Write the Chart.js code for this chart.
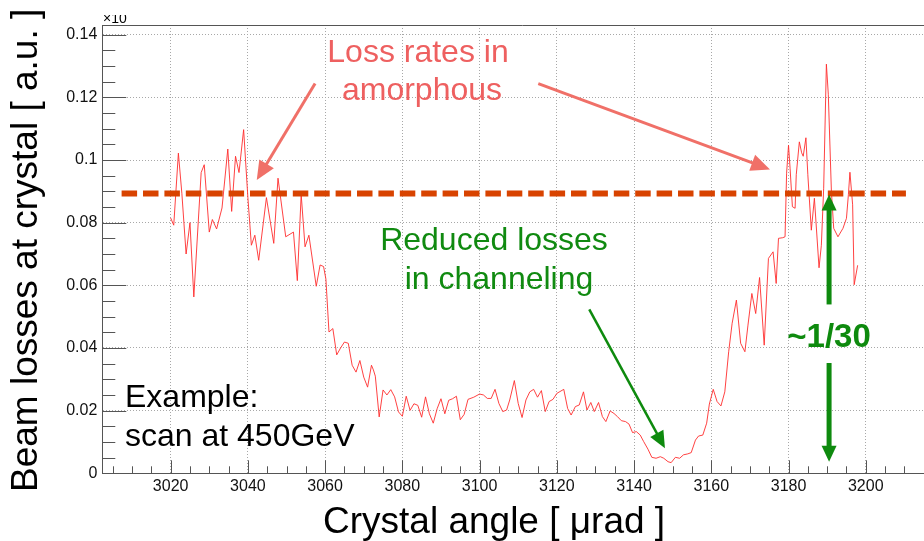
<!DOCTYPE html>
<html>
<head>
<meta charset="utf-8">
<script src="https://cdn.jsdelivr.net/npm/chart.js@4.4.1/dist/chart.umd.min.js"></script>
<style>
  html, body { margin: 0; padding: 0; background: #fff; overflow: hidden; }
  #chart { display: block; }
</style>
</head>
<body>
<canvas id="chart" width="960" height="541" style="width:960px;height:541px"></canvas>
<script>
// crystal angle scan, beam losses vs angle
const angle = [
  3020.0, 3020.8, 3022.0, 3022.9, 3024.0, 3025.0, 3026.0, 3027.9, 3028.7, 3030.0,
  3030.8, 3031.9, 3033.3, 3034.8, 3035.8, 3036.8, 3037.7, 3038.9, 3040.0, 3040.9,
  3041.8, 3042.8, 3044.8, 3046.7, 3047.8, 3049.8, 3051.8, 3052.8, 3053.8, 3054.8,
  3055.8, 3057.7, 3058.7, 3059.6, 3060.2, 3061.0, 3062.0, 3063.0, 3064.0, 3065.0,
  3066.0, 3067.0, 3068.0, 3069.0, 3070.0, 3071.0, 3072.0, 3072.5, 3073.0, 3074.0,
  3075.0, 3076.0, 3077.0, 3078.0, 3079.0, 3080.0, 3081.0, 3082.0, 3083.0, 3084.0,
  3085.0, 3086.0, 3087.0, 3088.0, 3089.0, 3090.0, 3091.0, 3092.0, 3093.0, 3094.0,
  3095.0, 3096.0, 3097.0, 3098.5, 3100.0, 3101.0, 3102.0, 3103.0, 3104.0, 3105.0,
  3106.0, 3107.0, 3107.8, 3109.0, 3110.0, 3111.0, 3112.0, 3113.0, 3114.0, 3115.0,
  3116.0, 3117.0, 3118.0, 3119.0, 3120.0, 3121.8, 3122.8, 3123.7, 3124.8, 3125.8,
  3126.9, 3127.8, 3128.8, 3129.7, 3130.8, 3131.8, 3132.7, 3133.8, 3134.8, 3135.7,
  3136.7, 3137.8, 3138.7, 3139.6, 3140.6, 3141.6, 3142.5, 3143.6, 3144.6, 3145.7,
  3146.8, 3147.7, 3148.8, 3149.6, 3150.7, 3151.8, 3152.8, 3153.9, 3154.8, 3155.9,
  3156.7, 3157.8, 3158.8, 3159.5, 3160.5, 3161.5, 3162.5, 3163.5, 3164.5, 3165.4,
  3166.5, 3167.6, 3168.7, 3169.5, 3170.5, 3171.5, 3172.5, 3173.7, 3174.8, 3176.0,
  3176.8, 3177.4, 3178.5, 3179.1, 3179.5, 3180.0, 3180.4, 3181.0, 3181.7, 3182.0,
  3182.8, 3183.4, 3183.8, 3184.5, 3185.0, 3185.9, 3186.7, 3187.9, 3188.5, 3189.1,
  3189.8, 3190.3, 3191.1, 3191.7, 3192.8, 3194.1, 3195.0, 3195.5, 3195.9, 3196.6,
  3197.0, 3197.9
];

const loss = [
  0.0815, 0.0792, 0.1022, 0.0894, 0.0700, 0.0800, 0.0563, 0.0960, 0.0985, 0.0770,
  0.0810, 0.0780, 0.0847, 0.1035, 0.0836, 0.1012, 0.0960, 0.1097, 0.0880, 0.0728,
  0.0760, 0.0680, 0.0880, 0.0734, 0.0942, 0.0755, 0.0770, 0.0615, 0.0890, 0.0723,
  0.0760, 0.0597, 0.0665, 0.0660, 0.0620, 0.0451, 0.0462, 0.0378, 0.0400, 0.0419,
  0.0415, 0.0345, 0.0323, 0.0360, 0.0307, 0.0275, 0.0345, 0.0330, 0.0310, 0.0180,
  0.0266, 0.0250, 0.0267, 0.0244, 0.0196, 0.0182, 0.0246, 0.0201, 0.0222, 0.0217,
  0.0179, 0.0244, 0.0190, 0.0160, 0.0206, 0.0238, 0.0190, 0.0233, 0.0238, 0.0246,
  0.0171, 0.0188, 0.0236, 0.0243, 0.0253, 0.0250, 0.0239, 0.0239, 0.0268, 0.0223,
  0.0197, 0.0202, 0.0234, 0.0296, 0.0223, 0.0178, 0.0234, 0.0260, 0.0268, 0.0243,
  0.0264, 0.0197, 0.0229, 0.0236, 0.0255, 0.0268, 0.0207, 0.0186, 0.0213, 0.0218,
  0.0260, 0.0202, 0.0226, 0.0197, 0.0226, 0.0181, 0.0165, 0.0199, 0.0191, 0.0181,
  0.0168, 0.0165, 0.0157, 0.0130, 0.0133, 0.0122, 0.0101, 0.0077, 0.0051, 0.0048,
  0.0053, 0.0048, 0.0037, 0.0034, 0.0051, 0.0048, 0.0059, 0.0062, 0.0066, 0.0106,
  0.0119, 0.0122, 0.0160, 0.0221, 0.0268, 0.0229, 0.0215, 0.0260, 0.0388, 0.0479,
  0.0553, 0.0415, 0.0388, 0.0473, 0.0574, 0.0510, 0.0625, 0.0409, 0.0686, 0.0707,
  0.0606, 0.0750, 0.0752, 0.0755, 0.0958, 0.1047, 0.0974, 0.0851, 0.0846, 0.0953,
  0.1058, 0.1023, 0.1012, 0.1071, 0.0953, 0.0776, 0.0878, 0.0656, 0.0728, 0.0910,
  0.1306, 0.1210, 0.0900, 0.0782, 0.0755, 0.0782, 0.0814, 0.0889, 0.0961, 0.0857,
  0.0602, 0.0664
];

// amorphous loss level and the angle span of the dashed line
const amorphousLevel = 0.0893;
const levelSpan = [3007.3, 3210.4];

const xTicks = [3020, 3040, 3060, 3080, 3100, 3120, 3140, 3160, 3180, 3200];
const yTicks = [0, 0.02, 0.04, 0.06, 0.08, 0.1, 0.12, 0.14];

const FONT = "'Liberation Sans', Arial, Helvetica, sans-serif";

const data = {
  datasets: [{
    label: 'amorphous level',
    data: levelSpan.map(a => ({ x: a, y: amorphousLevel })),
    borderColor: '#d84300',
    borderWidth: 6,
    borderDash: [15.5, 5.9],
    borderCapStyle: 'butt',
    pointRadius: 0,
    order: 0
  }, {
    label: 'losses',
    data: angle.map((a, i) => ({ x: a, y: loss[i] })),
    borderColor: 'rgba(255, 45, 45, 0.9)',
    borderWidth: 1,
    pointRadius: 0,
    tension: 0,
    order: 1
  }]
};

// ROOT style ticks drawn inside the frame, plus the top frame line
const insideTicks = {
  id: 'insideTicks',
  beforeDatasetsDraw(chart) {
    const { ctx, chartArea: a, scales: { x, y } } = chart;
    ctx.save();
    ctx.strokeStyle = '#555';
    ctx.lineWidth = 1;
    ctx.beginPath();
    for (let v = 3005; v <= 3215; v += 5) {
      const px = Math.round(x.getPixelForValue(v)) + 0.5;
      const len = v % 20 === 0 ? 13 : 7;
      ctx.moveTo(px, a.bottom);
      ctx.lineTo(px, a.bottom - len);
    }
    for (let k = 1; k <= 28; k++) {
      const py = Math.round(y.getPixelForValue(k * 0.005)) + 0.5;
      const len = k % 4 === 0 ? 24 : 13;
      ctx.moveTo(a.left, py);
      ctx.lineTo(a.left + len, py);
    }
    ctx.moveTo(a.left, Math.round(a.top) + 0.5);
    ctx.lineTo(a.right, Math.round(a.top) + 0.5);
    ctx.stroke();
    ctx.restore();
  }
};

function arrow(ctx, x1, y1, x2, y2, color, width, headLen, headHalf) {
  const dx = x2 - x1, dy = y2 - y1;
  const len = Math.hypot(dx, dy);
  const ux = dx / len, uy = dy / len;
  const bx = x2 - ux * headLen, by = y2 - uy * headLen;
  ctx.strokeStyle = color;
  ctx.lineWidth = width;
  ctx.beginPath();
  ctx.moveTo(x1, y1);
  ctx.lineTo(bx + ux, by + uy);
  ctx.stroke();
  ctx.fillStyle = color;
  ctx.beginPath();
  ctx.moveTo(x2, y2);
  ctx.lineTo(bx - uy * headHalf, by + ux * headHalf);
  ctx.lineTo(bx + uy * headHalf, by - ux * headHalf);
  ctx.closePath();
  ctx.fill();
}

const notes = {
  id: 'notes',
  afterDraw(chart) {
    const { ctx, scales: { x, y } } = chart;
    const X = v => x.getPixelForValue(v);
    const Y = v => y.getPixelForValue(v);
    ctx.save();

    // axis titles
    ctx.fillStyle = '#000';
    ctx.font = '37px ' + FONT;
    ctx.textAlign = 'left';
    ctx.textBaseline = 'alphabetic';
    ctx.fillText('Crystal angle [ μrad ]', 323, 533);
    ctx.save();
    ctx.translate(37, 492);
    ctx.rotate(-Math.PI / 2);
    ctx.fillText('Beam losses at crystal [ a.u. ]', 0, 0);
    ctx.restore();

    // exponent marker, top half hidden
    ctx.save();
    ctx.beginPath();
    ctx.rect(95, 15, 60, 12);
    ctx.clip();
    ctx.font = '14px ' + FONT;
    ctx.fillText('×10', 103, 23);
    ctx.restore();

    ctx.textAlign = 'center';
    ctx.font = '32px ' + FONT;

    // amorphous
    ctx.fillStyle = '#ee6060';
    ctx.fillText('Loss rates in', 418, 62);
    ctx.fillText('amorphous', 422, 100);
    arrow(ctx, X(3057.4), Y(0.1244), X(3042.3), Y(0.0936), '#f07068', 3, 19, 8.5);
    arrow(ctx, X(3115.2), Y(0.1244), X(3175.2), Y(0.0970), '#f07068', 3, 19, 8.5);

    // channeling
    ctx.fillStyle = '#108a10';
    ctx.fillText('Reduced losses', 494, 250);
    ctx.fillText('in channeling', 499, 289);
    arrow(ctx, X(3128.4), Y(0.0523), X(3148.0), Y(0.0080), '#0e8a0e', 2.5, 17, 7.5);

    ctx.font = 'bold 33px ' + FONT;
    ctx.fillText('~1/30', 829, 347);
    arrow(ctx, X(3190.5), Y(0.0539), X(3190.5), Y(0.0890), '#0e8a0e', 5, 16, 7.5);
    arrow(ctx, X(3190.5), Y(0.0352), X(3190.5), Y(0.0037), '#0e8a0e', 5, 16, 7.5);

    // Example
    ctx.fillStyle = '#000';
    ctx.textAlign = 'left';
    ctx.fillText('', 0, 0);
    ctx.font = '32px ' + FONT;
    ctx.fillText('Example:', 125, 407);
    ctx.fillText('scan at 450GeV', 125, 446);

    ctx.restore();
  }
};

const options = {
  responsive: false,
  animation: false,
  devicePixelRatio: 1,
  layout: { padding: { top: 25, right: 17, left: 0, bottom: 0 } },
  plugins: {
    legend: { display: false },
    tooltip: { enabled: false }
  },
  scales: {
    x: {
      type: 'linear',
      min: 3002.3,
      max: 3220,
      afterBuildTicks: s => { s.ticks = xTicks.map(v => ({ value: v })); },
      afterFit: s => { s.height = 541 - 473.3; },
      ticks: {
        color: '#111',
        font: { family: FONT, size: 16 },
        padding: 4,
        maxRotation: 0,
        callback: v => String(v)
      },
      grid: { color: '#a8a8a8', lineWidth: 1, drawTicks: false, tickLength: 0 },
      border: { display: true, color: '#555', width: 1, dash: [1, 2] }
    },
    y: {
      type: 'linear',
      min: 0,
      max: 0.1431,
      afterBuildTicks: s => { s.ticks = yTicks.map(v => ({ value: v })); },
      afterFit: s => { s.width = 102.3; },
      ticks: {
        color: '#111',
        font: { family: FONT, size: 16 },
        padding: 5,
        callback: v => String(+v.toFixed(2))
      },
      grid: { color: '#a8a8a8', lineWidth: 1, drawTicks: false, tickLength: 0 },
      border: { display: true, color: '#555', width: 1, dash: [1, 2] }
    }
  }
};

const config = {
  type: 'line',
  data: data,
  options: options,
  plugins: [insideTicks, notes]
};

const ctx = document.getElementById('chart');
const myChart = new Chart(ctx, config);
</script>
</body>
</html>
